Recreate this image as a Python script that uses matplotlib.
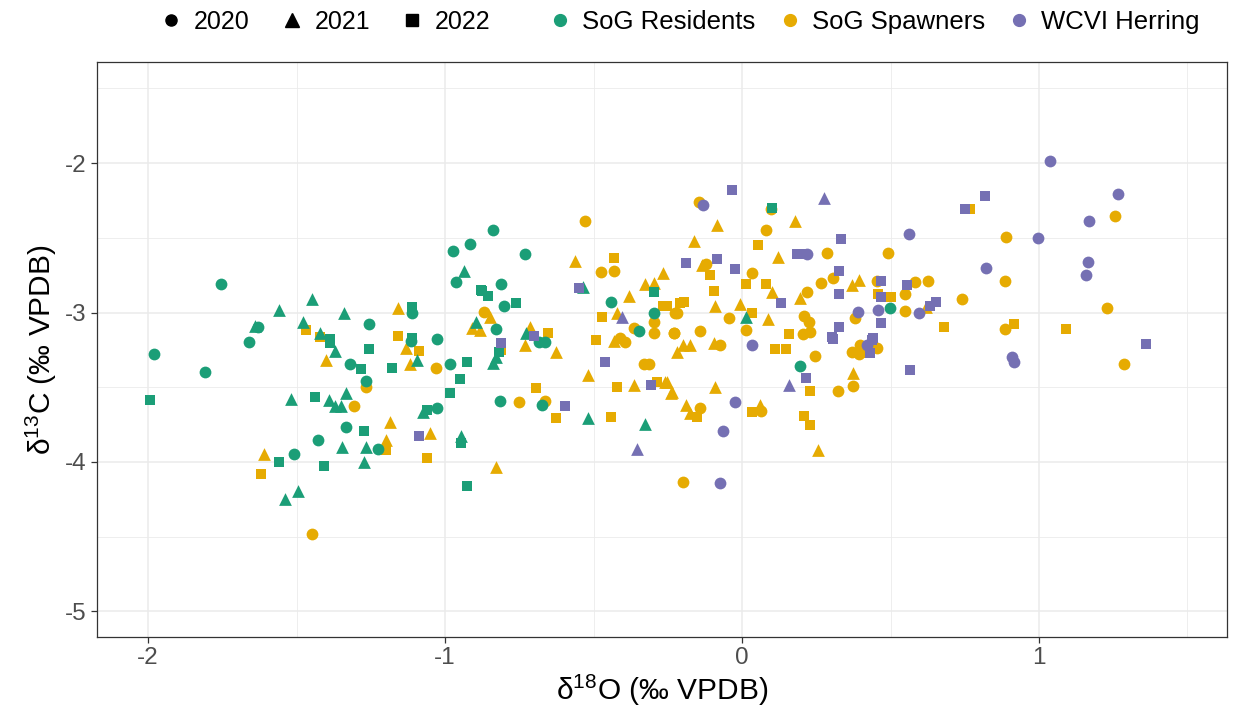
import matplotlib.pyplot as plt
from matplotlib.lines import Line2D
import numpy as np

plt.rcParams['font.family'] = ['Liberation Sans', 'DejaVu Sans']
plt.rcParams['mathtext.fontset'] = 'custom'
plt.rcParams['mathtext.rm'] = 'Liberation Sans'

# --- data: (d18O, d13C, year) per group ---
res_x = [-1.98, -1.81, -1.754, -1.66, -1.63, -1.64, -1.56, -1.993, -1.52, -1.56, -1.54, -1.51,
         -1.449, -1.341, -1.113, -1.113, -1.255, -1.479, -1.420, -1.387, -1.113, -1.027, -0.974, -0.916,
         -0.935, -0.964, -0.875, -0.897, -1.388, -1.372, -1.114, -1.096, -1.255, -1.319, -1.283, -1.177,
         -1.267, -0.982, -0.926, -0.951, -0.985, -1.438, -1.391, -1.332, -1.369, -1.352, -1.074, -1.061,
         -1.026, -1.332, -1.274, -1.428, -1.347, -1.266, -1.226, -0.946, -0.946, -1.408, -1.274, -1.496,
         -0.926, -0.838, -0.732, -0.535, -0.879, -0.857, -0.811, -0.800, -0.761, -0.828, -0.726, -0.296,
         -0.442, -0.296, -0.348, -0.820, -0.838, -0.830, -0.685, -0.662, -0.816, -0.673, -0.519, -0.326,
         0.102, 0.013, 0.196, 0.497]
res_y = [-3.28, -3.40, -2.809, -3.20, -3.10, -3.09, -2.98, -3.585, -3.58, -4.00, -4.25, -3.95,
         -2.912, -3.006, -2.96, -3.00, -3.077, -3.061, -3.14, -3.18, -3.173, -3.18, -2.589, -2.542,
         -2.720, -2.798, -2.854, -3.061, -3.206, -3.256, -3.188, -3.32, -3.246, -3.347, -3.38, -3.37,
         -3.456, -3.347, -3.329, -3.445, -3.536, -3.563, -3.585, -3.541, -3.625, -3.625, -3.663, -3.652,
         -3.637, -3.768, -3.793, -3.853, -3.902, -3.898, -3.915, -3.826, -3.875, -4.027, -3.997, -4.194,
         -4.161, -2.448, -2.609, -2.827, -2.849, -2.888, -2.81, -2.957, -2.939, -3.11, -3.14, -2.861,
         -2.932, -3.005, -3.124, -3.262, -3.34, -3.30, -3.20, -3.20, -3.59, -3.619, -3.708, -3.748,
         -2.303, -3.028, -3.356, -2.968]
res_yr = [2020, 2020, 2020, 2020, 2020, 2021, 2021, 2022, 2021, 2022, 2021, 2020,
          2021, 2021, 2022, 2020, 2020, 2021, 2021, 2022, 2022, 2020, 2020, 2020,
          2021, 2020, 2022, 2021, 2022, 2021, 2020, 2021, 2022, 2020, 2022, 2022,
          2020, 2020, 2022, 2022, 2022, 2022, 2021, 2021, 2021, 2021, 2021, 2022,
          2020, 2020, 2022, 2020, 2021, 2021, 2020, 2021, 2022, 2022, 2021, 2021,
          2022, 2020, 2020, 2021, 2022, 2022, 2020, 2020, 2022, 2020, 2021, 2022,
          2020, 2020, 2020, 2022, 2021, 2021, 2020, 2020, 2020, 2020, 2021, 2021,
          2022, 2021, 2020, 2020]

spa_x = [-1.61, -1.62, -1.157, -1.467, -1.420, -0.870, -0.909, -0.881, -1.158, -1.400, -1.131, -1.089,
         -1.119, -1.031, -1.265, -1.307, -1.187, -1.198, -1.198, -1.052, -1.061, -1.448, -0.529, -0.562,
         -0.850, -0.713, -0.654, -0.432, -0.474, -0.432, -0.326, -0.297, -0.266, -0.382, -0.267, -0.470,
         -0.421, -0.296, -0.365, -0.296, -0.230, -0.225, -0.811, -0.732, -0.625, -0.491, -0.432, -0.412,
         -0.393, -0.520, -0.314, -0.330, -0.693, -0.421, -0.365, -0.286, -0.258, -0.239, -0.752, -0.664,
         -0.625, -0.441, -0.828, -0.144, 0.098, -0.084, 0.179, 0.081, -0.161, 0.053, 0.121, 0.286,
         -0.135, -0.120, -0.107, 0.034, 0.013, 0.081, 0.101, 0.219, 0.196, 0.266, 0.305, 0.370,
         0.393, -0.096, -0.208, -0.196, -0.253, -0.092, -0.008, -0.219, -0.045, 0.034, 0.087, 0.208,
         0.225, 0.382, -0.228, -0.140, 0.013, 0.158, 0.205, 0.228, 0.110, 0.149, 0.245, 0.370,
         0.393, -0.219, -0.199, -0.176, -0.096, -0.073, 0.228, 0.323, 0.373, 0.373, -0.253, -0.236,
         -0.092, -0.190, -0.174, -0.140, -0.152, 0.062, 0.065, 0.034, 0.208, 0.228, 0.256, -0.200,
         0.769, 0.889, 0.490, 0.887, 0.455, 0.584, 0.625, 0.457, 0.500, 0.548, 0.741, 0.620,
         0.548, 0.681, 0.884, 0.915, 0.398, 0.455, 0.398, 1.257, 1.229, 1.090, 1.286]
spa_y = [-3.95, -4.08, -2.972, -3.117, -3.166, -2.995, -3.104, -3.117, -3.16, -3.318, -3.24, -3.256,
         -3.347, -3.37, -3.496, -3.625, -3.735, -3.853, -3.92, -3.808, -3.975, -4.482, -2.39, -2.653,
         -3.032, -3.095, -3.135, -2.638, -2.727, -2.72, -2.81, -2.805, -2.738, -2.89, -2.957, -3.028,
         -3.001, -3.061, -3.106, -3.135, -3.135, -3.005, -3.25, -3.217, -3.262, -3.184, -3.188, -3.173,
         -3.20, -3.418, -3.347, -3.347, -3.507, -3.496, -3.485, -3.463, -3.463, -3.541, -3.601, -3.592,
         -3.708, -3.697, -4.036, -2.259, -2.31, -2.415, -2.388, -2.448, -2.52, -2.548, -2.631, -2.60,
         -2.682, -2.676, -2.749, -2.738, -2.81, -2.81, -2.861, -2.861, -2.905, -2.80, -2.771, -2.816,
         -2.783, -2.854, -2.934, -2.928, -2.957, -2.957, -2.943, -3.005, -3.039, -3.001, -3.046, -3.021,
         -3.061, -3.039, -3.135, -3.122, -3.117, -3.146, -3.144, -3.128, -3.246, -3.246, -3.289, -3.266,
         -3.278, -3.262, -3.217, -3.217, -3.202, -3.217, -3.525, -3.525, -3.407, -3.49, -3.463, -3.53,
         -3.496, -3.619, -3.674, -3.637, -3.701, -3.619, -3.659, -3.663, -3.692, -3.752, -3.923, -4.136,
         -2.31, -2.497, -2.602, -2.789, -2.787, -2.794, -2.789, -2.876, -2.894, -2.878, -2.91, -2.96,
         -2.99, -3.099, -3.11, -3.077, -3.217, -3.24, -3.27, -2.355, -2.972, -3.11, -3.347]
spa_yr = [2021, 2022, 2021, 2022, 2022, 2020, 2021, 2021, 2022, 2021, 2021, 2022,
          2021, 2020, 2020, 2020, 2021, 2021, 2022, 2021, 2022, 2020, 2020, 2021,
          2021, 2021, 2022, 2022, 2020, 2020, 2021, 2021, 2021, 2021, 2022, 2022,
          2021, 2020, 2020, 2020, 2020, 2020, 2022, 2021, 2021, 2022, 2021, 2020,
          2020, 2021, 2020, 2020, 2022, 2022, 2021, 2022, 2021, 2021, 2020, 2020,
          2022, 2022, 2021, 2020, 2020, 2021, 2021, 2020, 2021, 2022, 2021, 2020,
          2021, 2020, 2022, 2020, 2022, 2022, 2021, 2020, 2021, 2020, 2020, 2021,
          2021, 2022, 2022, 2022, 2022, 2021, 2021, 2020, 2020, 2022, 2021, 2020,
          2020, 2020, 2020, 2020, 2020, 2022, 2020, 2020, 2022, 2022, 2020, 2020,
          2020, 2021, 2021, 2021, 2021, 2020, 2022, 2020, 2021, 2020, 2021, 2021,
          2021, 2021, 2021, 2020, 2022, 2021, 2020, 2022, 2022, 2022, 2021, 2020,
          2022, 2020, 2020, 2020, 2020, 2020, 2020, 2022, 2022, 2020, 2020, 2021,
          2020, 2022, 2020, 2022, 2020, 2020, 2022, 2020, 2020, 2022, 2020]

wcvi_x = [-1.089, -0.548, -0.701, -0.404, -0.811, -0.460, -0.306, -0.597, -0.354, -0.034, -0.131, 0.275,
          0.333, 0.185, 0.208, 0.219, -0.189, -0.084, -0.025, 0.326, 0.326, 0.130, 0.391, 0.326,
          0.303, 0.034, 0.305, 0.159, 0.217, -0.025, -0.064, -0.073, 1.036, 0.819, 0.750, 0.562,
          0.996, 0.823, 0.468, 0.556, 0.468, 0.634, 0.654, 0.459, 0.595, 0.468, 0.440, 0.421,
          0.438, 0.432, 0.567, 0.909, 0.915, 1.266, 1.170, 1.164, 1.157, 1.360]
wcvi_y = [-3.826, -2.834, -3.16, -3.032, -3.206, -3.329, -3.485, -3.625, -3.915, -2.181, -2.281, -2.236,
          -2.508, -2.609, -2.609, -2.609, -2.671, -2.644, -2.709, -2.72, -2.876, -2.939, -2.999, -3.10,
          -3.166, -3.217, -3.177, -3.485, -3.44, -3.596, -3.793, -4.143, -1.987, -2.221, -2.31, -2.477,
          -2.50, -2.705, -2.787, -2.816, -2.894, -2.957, -2.928, -2.983, -3.005, -3.068, -3.173, -3.217,
          -3.184, -3.269, -3.385, -3.296, -3.329, -2.21, -2.39, -2.66, -2.749, -3.21]
wcvi_yr = [2022, 2022, 2022, 2021, 2022, 2022, 2022, 2022, 2021, 2022, 2020, 2021,
           2022, 2022, 2022, 2020, 2022, 2022, 2022, 2022, 2022, 2022, 2020, 2022,
           2022, 2020, 2022, 2021, 2022, 2020, 2020, 2020, 2020, 2022, 2022, 2020,
           2020, 2020, 2022, 2022, 2022, 2022, 2022, 2020, 2020, 2022, 2022, 2020,
           2022, 2022, 2022, 2020, 2020, 2020, 2020, 2020, 2020, 2022]

groups = ['SoG Residents', 'SoG Spawners', 'WCVI Herring']
years = [2020, 2021, 2022]
colors = {'SoG Residents': '#1B9E77', 'SoG Spawners': '#E6AB02', 'WCVI Herring': '#7570B3'}
markers = {2020: 'o', 2021: '^', 2022: 's'}
sizes = {2020: 72, 2021: 84, 2022: 60}

data = {'SoG Residents': (res_x, res_y, res_yr),
        'SoG Spawners': (spa_x, spa_y, spa_yr),
        'WCVI Herring': (wcvi_x, wcvi_y, wcvi_yr)}

fig, ax = plt.subplots(figsize=(12.39, 7.17), dpi=100)
fig.subplots_adjust(left=0.0783, right=0.9903, top=0.9135, bottom=0.1116)

for g in ['SoG Spawners', 'SoG Residents', 'WCVI Herring']:
    x, y, yr = (np.array(a) for a in data[g])
    for yy in years:
        m = yr == yy
        ax.scatter(x[m], y[m], marker=markers[yy], s=sizes[yy], color=colors[g],
                   linewidths=0, zorder=3)

ax.set_xlim(-2.172, 1.633)
ax.set_ylim(-5.171, -1.324)
ax.set_xticks([-2, -1, 0, 1])
ax.set_xticklabels(['-2', '-1', '0', '1'])
ax.set_yticks([-5, -4, -3, -2])
ax.set_yticklabels(['-5', '-4', '-3', '-2'])
ax.set_xticks([-1.5, -0.5, 0.5, 1.5], minor=True)
ax.set_yticks([-4.5, -3.5, -2.5, -1.5], minor=True)
ax.grid(which='major', color='#EBEBEB', lw=1.1, zorder=0)
ax.grid(which='minor', color='#EBEBEB', lw=0.6, zorder=0)
ax.tick_params(which='minor', length=0)
ax.tick_params(which='major', length=4, width=0.9, color='#333333',
               labelsize=17.5, labelcolor='#4D4D4D')
for s in ax.spines.values():
    s.set_color('#333333')
    s.set_linewidth(0.9)

ax.set_xlabel('δ$^{18}$O (‰ VPDB)', fontsize=21.5, labelpad=2)
ax.set_ylabel('δ$^{13}$C (‰ VPDB)', fontsize=21.5, labelpad=4)

year_handles = [Line2D([], [], ls='', marker=markers[yy], color='black',
                       markersize=9.5 if yy == 2021 else 8) for yy in years]
group_handles = [Line2D([], [], ls='', marker='o', color=colors[g], markersize=8.5) for g in groups]

leg1 = fig.legend(year_handles, [str(yy) for yy in years], loc='center',
                  bbox_to_anchor=(0.262, 0.969), ncol=3, frameon=False, fontsize=18,
                  handletextpad=0.4, columnspacing=1.2, handlelength=1.0)
leg2 = fig.legend(group_handles, groups, loc='center',
                  bbox_to_anchor=(0.705, 0.969), ncol=3, frameon=False, fontsize=18.5,
                  handletextpad=0.35, columnspacing=0.85, handlelength=1.0)

fig.savefig('out.png', dpi=100)
